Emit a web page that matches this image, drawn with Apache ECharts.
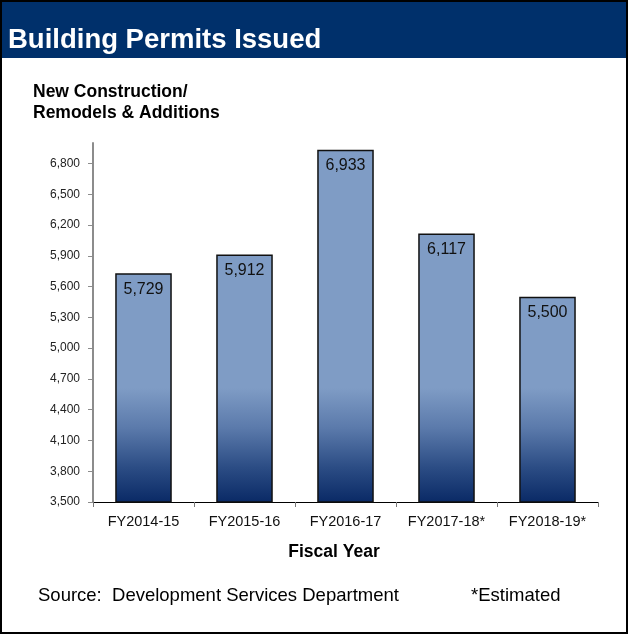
<!DOCTYPE html>
<html>
<head>
<meta charset="utf-8">
<script src="https://cdn.jsdelivr.net/npm/echarts@6/dist/echarts.min.js"></script>
<style>
  html, body { margin: 0; padding: 0; background: #fff; }
  #chart { width: 629px; height: 635px; }
</style>
</head>
<body>
<div id="chart"></div>
<script>
// Building permits issued per fiscal year (new construction, remodels & additions)
const categories = ['FY2014-15', 'FY2015-16', 'FY2016-17', 'FY2017-18*', 'FY2018-19*'];
const permits = [5729, 5912, 6933, 6117, 5500];
const yTicks = [3500, 3800, 4100, 4400, 4700, 5000, 5300, 5600, 5900, 6200, 6500, 6800];

const FONT = '"Liberation Sans", Arial, Helvetica, sans-serif';
const chart = echarts.init(document.getElementById('chart'), null, { renderer: 'canvas' });

// Shared vertical shading: pale steel blue fading into navy near the baseline
const barFill = new echarts.graphic.LinearGradient(0, 388, 0, 502, [
  { offset: 0, color: '#7f9cc5' },
  { offset: 0.35, color: '#5b7aab' },
  { offset: 0.7, color: '#2b4c84' },
  { offset: 1, color: '#0a2a66' }
], true);

chart.setOption({
  backgroundColor: '#ffffff',
  animation: false,
  graphic: [
    { type: 'rect', shape: { x: 1, y: 1, width: 626, height: 632 },
      style: { fill: 'none', stroke: '#000', lineWidth: 2 }, z: 100 },
    { type: 'rect', shape: { x: 2, y: 2, width: 624, height: 56 },
      style: { fill: '#00306b' }, z: 0 }
  ],
  title: [
    { text: 'Building Permits Issued', left: 8, top: 26, padding: 0,
      textStyle: { color: '#fff', fontFamily: FONT, fontWeight: 'bold', fontSize: 27.5 } },
    { text: 'New Construction/\nRemodels & Additions', left: 33, top: 82, padding: 0,
      textStyle: { color: '#000', fontFamily: FONT, fontWeight: 'bold', fontSize: 17.5, lineHeight: 21 } },
    { text: 'Fiscal Year', left: 334, top: 543, padding: 0, textAlign: 'center',
      textStyle: { color: '#000', fontFamily: FONT, fontWeight: 'bold', fontSize: 17.5 } },
    { text: 'Source:  Development Services Department', left: 38, top: 586, padding: 0,
      textStyle: { color: '#000', fontFamily: FONT, fontWeight: 'normal', fontSize: 18.5 } },
    { text: '*Estimated', left: 471, top: 586, padding: 0,
      textStyle: { color: '#000', fontFamily: FONT, fontWeight: 'normal', fontSize: 18.5 } }
  ],
  grid: { left: 93, right: 31, top: 143, bottom: 133 },
  xAxis: {
    type: 'category',
    data: categories,
    axisLine: { lineStyle: { color: '#000', width: 1 } },
    axisTick: { show: true, alignWithLabel: false, length: 5, lineStyle: { color: '#777' } },
    axisLabel: { color: '#111', fontFamily: FONT, fontSize: 14.5, margin: 12, interval: 0, hideOverlap: false }
  },
  yAxis: {
    type: 'value',
    min: 3500,
    max: 7000,
    interval: 300,
    axisLine: { show: true, lineStyle: { color: '#8c8c8c', width: 2 } },
    axisTick: { show: true, length: 5, lineStyle: { color: '#8c8c8c' }, customValues: yTicks },
    axisLabel: {
      color: '#222', fontFamily: FONT, fontSize: 12, margin: 13,
      customValues: yTicks,
      formatter: v => v.toLocaleString('en-US')
    },
    splitLine: { show: false }
  },
  series: [{
    type: 'bar',
    data: permits,
    barWidth: '56%',
    itemStyle: { color: barFill, borderColor: '#111', borderWidth: 1.5 },
    label: {
      show: true, position: 'insideTop', distance: 8,
      color: '#111', fontFamily: FONT, fontSize: 16,
      formatter: p => p.value.toLocaleString('en-US')
    }
  }]
});
</script>
</body>
</html>
